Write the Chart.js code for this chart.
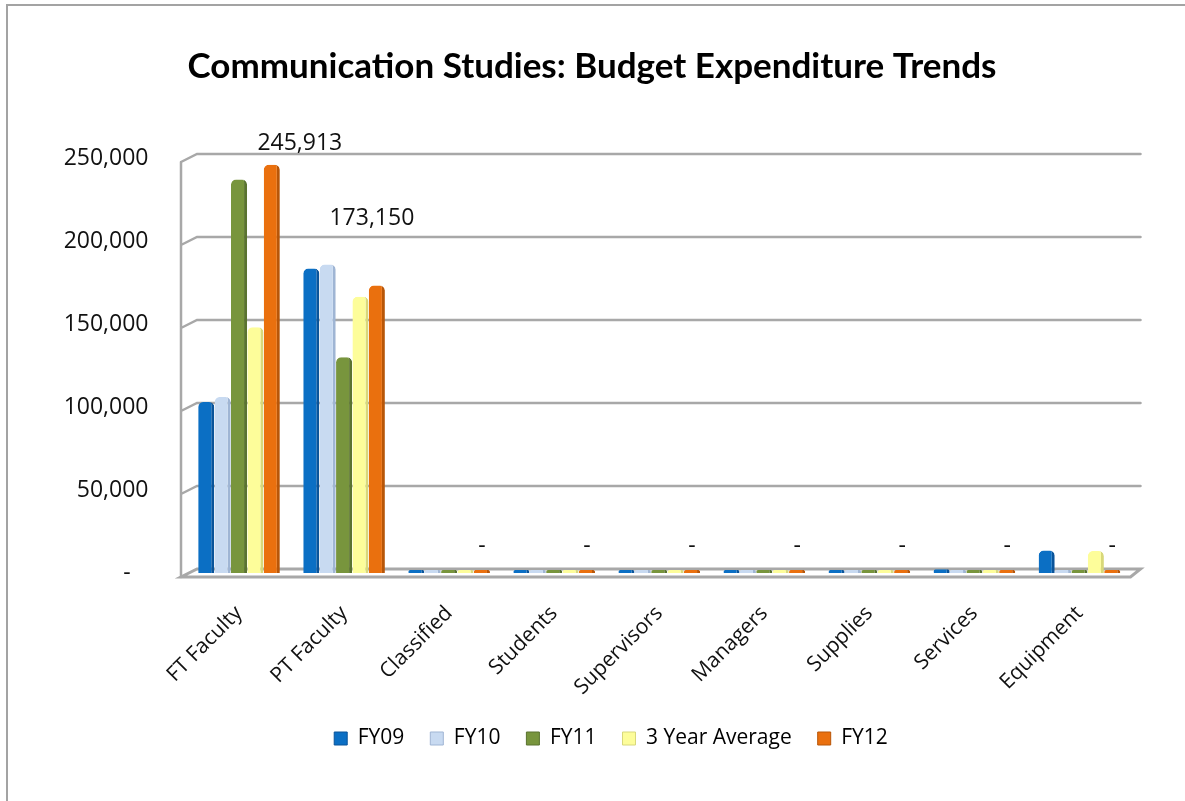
<!DOCTYPE html>
<html>
<head>
<meta charset="utf-8">
<title>Communication Studies: Budget Expenditure Trends</title>
<script src="https://cdn.jsdelivr.net/npm/chart.js@4.4.1/dist/chart.umd.min.js"></script>
<style>
  html, body { margin: 0; padding: 0; background: #fff; overflow: hidden; }
  #frame {
    position: absolute; left: 6px; top: 4px; width: 1400px; height: 1000px;
    border-left: 2px solid #a3a3a3; border-top: 2px solid #a3a3a3;
  }
  #wrap { position: absolute; left: 0; top: 0; width: 1185px; height: 801px; }
</style>
</head>
<body>
<div id="frame"></div>
<div id="wrap"><canvas id="budgetChart"></canvas></div>
<script>
// Budget lines and yearly spend
const categories = ["FT Faculty", "PT Faculty", "Classified", "Students", "Supervisors", "Managers", "Supplies", "Services", "Equipment"];
const seriesNames = ["FY09", "FY10", "FY11", "3 Year Average", "FY12"];
const fy09 = [103000, 183400, 0, 0, 0, 0, 0, 2200, 13500];
const fy10 = [106000, 185800, 0, 0, 0, 0, 0, 0, 0];
const fy11 = [237000, 130000, 0, 0, 0, 0, 500, 0, 0];
const avg3 = [148000, 166400, 0, 0, 0, 0, 0, 600, 13300];
const fy12 = [245913, 173150, 0, 0, 0, 0, 0, 0, 0];
const yTicks = [0, 50000, 100000, 150000, 200000, 250000];

const FILL = ["#0b6fc4", "#c8daf1", "#78953d", "#fdfd9a", "#ea700e"];
const SIDE = ["#0a549a", "#9fb5d4", "#5a7330", "#d8d87a", "#b85608"];
const FONT = "'Open Sans', sans-serif";

// back wall, left wall and floor of the pseudo-3D plot box
const wallPlugin = {
  id: "wall3d",
  beforeDatasetsDraw(chart) {
    const { ctx, chartArea, scales } = chart;
    const y = scales.y;
    const fx = chartArea.left - 5.5, bx = chartArea.left + 10.5;
    const rx = chartArea.right + 8.5, frx = chartArea.right - 1.5;
    ctx.save();
    ctx.strokeStyle = "#a8a8a8";
    ctx.lineWidth = 2.5;
    ctx.lineCap = "round";
    ctx.beginPath();
    yTicks.forEach(v => {
      if (v === 0) return;
      const yb = y.getPixelForValue(v) - 4;
      ctx.moveTo(fx, yb + 8);
      ctx.lineTo(bx, yb);
      ctx.lineTo(rx, yb);
    });
    ctx.moveTo(fx, y.getPixelForValue(yTicks[yTicks.length - 1]) + 4);
    ctx.lineTo(fx, chartArea.bottom + 4);
    ctx.stroke();

    // floor
    const yf = chartArea.bottom + 4, yk = chartArea.bottom - 4;
    ctx.beginPath();
    ctx.moveTo(fx, yf);
    ctx.lineTo(frx, yf);
    ctx.lineTo(rx, yk);
    ctx.lineTo(bx, yk);
    ctx.closePath();
    ctx.fillStyle = "#ffffff";
    ctx.fill();
    ctx.lineWidth = 3;
    ctx.stroke();
    ctx.restore();
  }
};

// center title and legend on the whole canvas rather than the padded box
const recenter = {
  id: "recenter",
  afterLayout(chart, args, opts) {
    [chart.titleBlock, chart.legend].forEach((box, i) => {
      if (!box) return;
      const shift = opts.shifts[i];
      box.left += shift;
      box.right += shift;
    });
  }
};

// value labels over the FY12 columns
const fy12Labels = {
  id: "fy12Labels",
  afterDatasetsDraw(chart, args, opts) {
    const { ctx } = chart;
    const meta = chart.getDatasetMeta(opts.datasetIndex);
    const values = chart.data.datasets[opts.datasetIndex].data;
    ctx.save();
    ctx.font = "23px " + FONT;
    ctx.fillStyle = "#111";
    ctx.textAlign = "center";
    ctx.textBaseline = "middle";
    meta.data.forEach((bar, i) => {
      const v = values[i];
      const txt = v > 0 ? v.toLocaleString("en-US") : "-";
      const dx = opts.shiftX[i] || 0;
      const lift = opts.lift[i] !== undefined ? opts.lift[i] : 24;
      ctx.fillText(txt, bar.x + dx, bar.y - lift);
    });
    ctx.restore();
  }
};

const seriesData = [fy09, fy10, fy11, avg3, fy12];

new Chart(document.getElementById("budgetChart"), {
  type: "bar",
  data: {
    labels: categories,
    datasets: seriesNames.map((name, k) => ({
      label: name,
      data: seriesData[k],
      backgroundColor: FILL[k],
      borderColor: SIDE[k],
      borderWidth: { top: 0, right: 3, bottom: 0, left: 0 },
      borderSkipped: false,
      borderRadius: { topLeft: 5, topRight: 5, bottomLeft: 0, bottomRight: 0 },
      minBarLength: 3,
      categoryPercentage: 0.78,
      barPercentage: 0.98
    }))
  },
  options: {
    responsive: true,
    maintainAspectRatio: false,
    animation: false,
    layout: { padding: { left: 20, right: 53, top: 46, bottom: 42 } },
    scales: {
      x: {
        grid: { display: false },
        border: { display: false },
        ticks: {
          minRotation: 45,
          maxRotation: 45,
          padding: 20,
          color: "#111",
          font: { family: FONT, size: 21 }
        },
        afterFit(scale) { scale.height = 129; }
      },
      y: {
        min: 0,
        max: 250000,
        grid: { display: false, drawTicks: false },
        border: { display: false },
        afterBuildTicks(scale) { scale.ticks = yTicks.map(v => ({ value: v })); },
        ticks: {
          padding: 38,
          color: "#111",
          font: { family: FONT, size: 23 },
          callback: v => v === 0 ? "-   " : v.toLocaleString("en-US")
        },
        afterFit(scale) { scale.width = 166.5; }
      }
    },
    plugins: {
      title: {
        display: true,
        text: "Communication Studies: Budget Expenditure Trends",
        color: "#000",
        font: { family: "Lato, " + FONT, size: 35, weight: "bold", lineHeight: 1.2 },
        padding: { top: 0, bottom: 70 }
      },
      legend: {
        position: "bottom",
        labels: {
          color: "#111",
          font: { family: FONT, size: 21 },
          boxWidth: 13,
          boxHeight: 13,
          padding: 26,
          generateLabels: chart => chart.data.datasets.map((ds, i) => ({
            text: ds.label,
            fillStyle: FILL[i],
            strokeStyle: SIDE[i],
            lineWidth: 1,
            datasetIndex: i,
            hidden: false
          }))
        }
      },
      tooltip: { enabled: false },
      recenter: { shifts: [16, 35] },
      fy12Labels: {
        datasetIndex: 4,
        shiftX: [28, -5],
        lift: [21, 67]
      }
    }
  },
  plugins: [wallPlugin, recenter, fy12Labels]
});
</script>
</body>
</html>
